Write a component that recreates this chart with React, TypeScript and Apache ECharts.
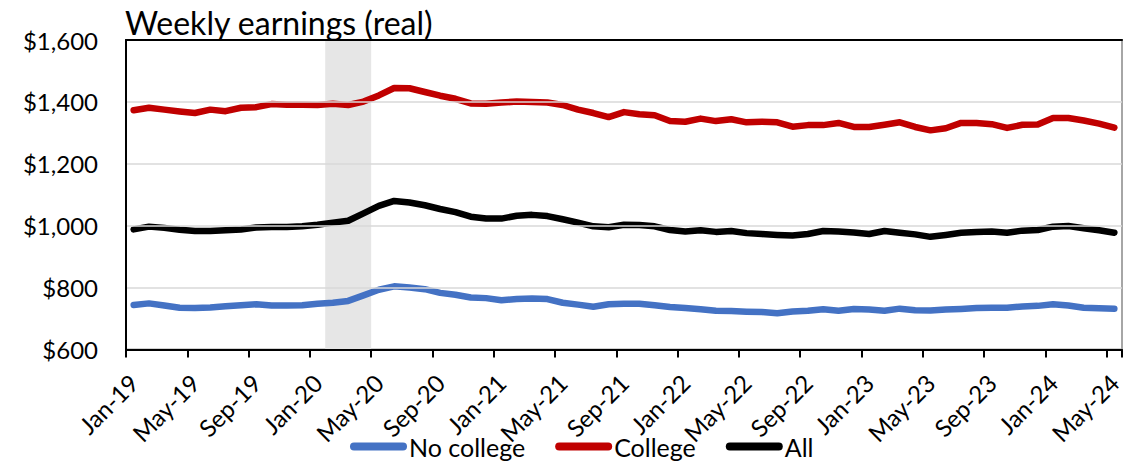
import React, { useEffect, useRef } from "react";
import * as echarts from "echarts";

const categories = [
  "Jan-19","Feb-19","Mar-19","Apr-19","May-19","Jun-19","Jul-19","Aug-19","Sep-19","Oct-19","Nov-19","Dec-19",
  "Jan-20","Feb-20","Mar-20","Apr-20","May-20","Jun-20","Jul-20","Aug-20","Sep-20","Oct-20","Nov-20","Dec-20",
  "Jan-21","Feb-21","Mar-21","Apr-21","May-21","Jun-21","Jul-21","Aug-21","Sep-21","Oct-21","Nov-21","Dec-21",
  "Jan-22","Feb-22","Mar-22","Apr-22","May-22","Jun-22","Jul-22","Aug-22","Sep-22","Oct-22","Nov-22","Dec-22",
  "Jan-23","Feb-23","Mar-23","Apr-23","May-23","Jun-23","Jul-23","Aug-23","Sep-23","Oct-23","Nov-23","Dec-23",
  "Jan-24","Feb-24","Mar-24","Apr-24","May-24",
];

const noCollege = [
  744,749,742,735,734,736,740,743,746,742,742,743,
  748,751,757,775,793,804,800,795,783,777,768,766,
  759,763,765,763,751,745,738,746,748,748,743,737,
  734,730,725,724,722,721,717,723,725,730,725,731,
  729,725,732,727,726,729,731,734,735,735,739,741,
  746,742,735,733,732,
];

const college = [
  1373,1381,1375,1369,1364,1375,1370,1381,1383,1393,1391,1391,
  1390,1394,1390,1401,1421,1445,1444,1432,1420,1410,1395,1394,
  1398,1401,1400,1398,1390,1375,1364,1351,1367,1360,1357,1338,
  1336,1346,1338,1344,1334,1336,1334,1320,1325,1325,1332,1319,
  1319,1326,1334,1319,1308,1315,1332,1332,1328,1316,1326,1327,
  1348,1348,1340,1330,1317,
];

const all = [
  988,997,993,987,983,983,985,988,994,996,996,998,
  1003,1010,1016,1040,1064,1080,1075,1066,1054,1044,1029,1023,
  1023,1032,1035,1031,1021,1010,998,995,1003,1002,998,986,
  981,985,980,983,976,973,970,968,973,983,981,978,
  973,983,977,972,964,970,977,980,981,977,984,986,
  997,999,992,985,977,
];

// recession period: first and last month shaded
const recession = [["Feb-20", "Apr-20"]];

const yMin = 600;
const yMax = 1600;
const yStep = 200;

const FONT = "Lato";

export default function App() {
  const ref = useRef<HTMLDivElement>(null);

  useEffect(() => {
    if (!ref.current) return;
    const chart = echarts.init(ref.current, null, { renderer: "svg" });
    const lineSeries = (name: string, data: number[], color: string) => ({
      name,
      type: "line",
      data,
      showSymbol: false,
      symbol: "none",
      z: 5,
      lineStyle: { color, width: 6.5, cap: "round", join: "round" },
      itemStyle: { color },
    });
    const capsule = "path://M4,0 L53,0 A4,4 0 0 1 53,8 L4,8 A4,4 0 0 1 4,0 Z";
    chart.setOption({
      animation: false,
      textStyle: { fontFamily: FONT },
      title: {
        text: "Weekly earnings (real)",
        left: 120,
        top: 1,
        textStyle: { fontFamily: FONT, fontSize: 32, fontWeight: "normal", color: "#000" },
      },
      grid: {
        left: 126,
        right: 18,
        top: 40,
        bottom: 112.5,
        show: true,
        borderColor: "#a6a6a6",
        borderWidth: 2,
        backgroundColor: "transparent",
      },
      legend: {
        data: [
          { name: "No college", icon: capsule },
          { name: "College", icon: capsule },
          { name: "All", icon: capsule },
        ],
        left: 345,
        top: 429,
        itemWidth: 57,
        itemHeight: 8,
        itemGap: 30,
        textStyle: { fontFamily: FONT, fontSize: 25, color: "#000", padding: [0, 0, 0, -3] },
      },
      xAxis: [
        {
          type: "category",
          data: categories,
          boundaryGap: true,
          axisLine: { show: true, lineStyle: { color: "#000", width: 2 } },
          axisTick: { show: true, interval: 3, length: 8, inside: false, lineStyle: { color: "#000", width: 2 } },
          axisLabel: {
            interval: 3,
            rotate: 45,
            margin: 29,
            fontFamily: FONT,
            fontSize: 24,
            color: "#000",
          },
          splitLine: { show: false },
          z: 6,
        },
        {
          type: "category",
          data: categories,
          position: "top",
          boundaryGap: true,
          axisLine: { show: true, lineStyle: { color: "#000", width: 2 } },
          axisTick: { show: false },
          axisLabel: { show: false },
          splitLine: { show: false },
          z: 6,
        },
      ],
      yAxis: {
        type: "value",
        min: yMin,
        max: yMax,
        interval: yStep,
        axisLine: { show: true, lineStyle: { color: "#000", width: 2 } },
        axisTick: { show: false },
        axisLabel: {
          margin: 28,
          fontFamily: FONT,
          fontSize: 24,
          color: "#000",
          formatter: (v: number) => "$" + v.toLocaleString("en-US"),
        },
        splitLine: { show: true, lineStyle: { color: "#d9d9d9", width: 1.5 } },
        z: 6,
      },
      series: [
        {
          name: "Recession",
          type: "custom",
          data: recession,
          encode: { x: [0, 1] },
          silent: true,
          z: 1,
          renderItem: (params: any, api: any) => {
            const cs = params.coordSys;
            const w = api.size([1, 0])[0];
            const x0 = api.coord([api.value(0), yMin])[0] - w / 2;
            const x1 = api.coord([api.value(1), yMin])[0] + w / 2;
            return {
              type: "rect",
              shape: { x: x0, y: cs.y, width: x1 - x0, height: cs.height },
              style: { fill: "#e6e6e6" },
            };
          },
        },
        lineSeries("No college", noCollege, "#4472c4"),
        lineSeries("College", college, "#c00000"),
        lineSeries("All", all, "#000000"),
      ],
    });
    return () => chart.dispose();
  }, []);

  return (
    <div
      ref={ref}
      style={{ position: "fixed", left: 0, top: 0, width: 1140, height: 462, background: "#fff" }}
    />
  );
}
